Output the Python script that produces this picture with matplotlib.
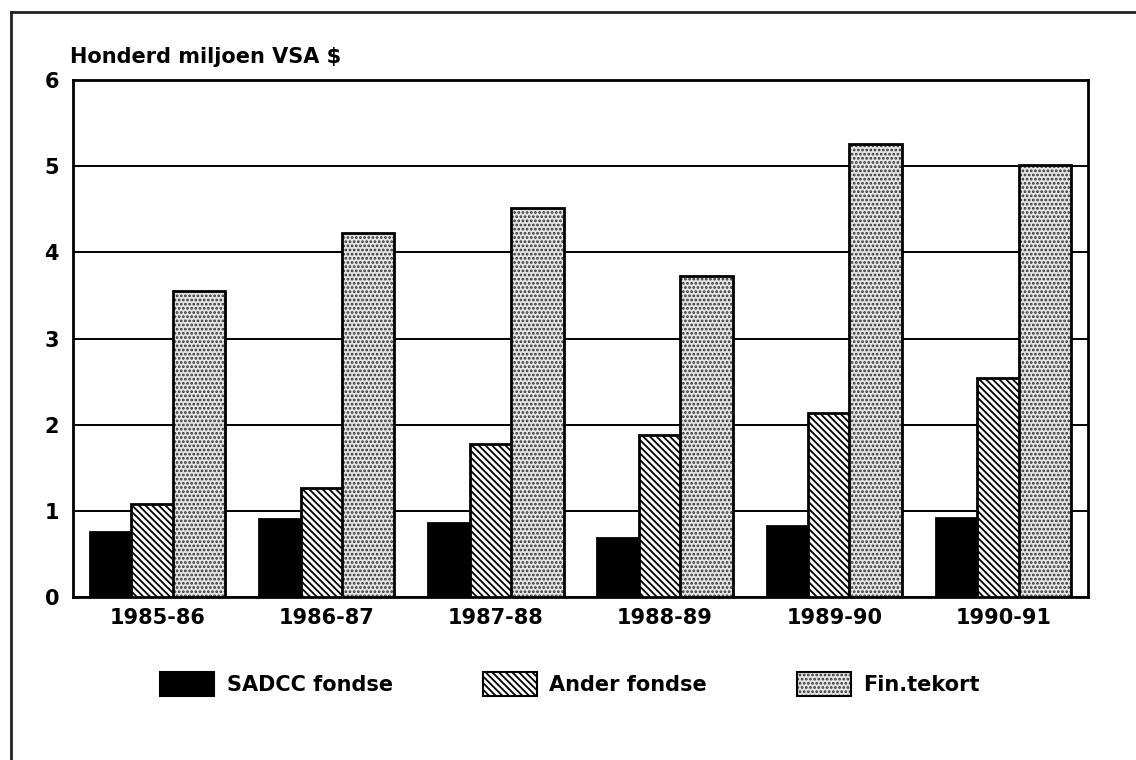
import matplotlib
matplotlib.use('Agg')
import matplotlib.pyplot as plt
import numpy as np
from matplotlib.patches import Patch
from matplotlib.lines import Line2D
from matplotlib.legend_handler import HandlerTuple

categories = ['1985-86', '1986-87', '1987-88', '1988-89', '1989-90', '1990-91']
sadcc = [0.76, 0.91, 0.86, 0.68, 0.82, 0.92]
ander = [1.08, 1.27, 1.78, 1.88, 2.13, 2.54]
tekort = [3.55, 4.22, 4.51, 3.72, 5.26, 5.01]
series_labels = ['SADCC fondse', 'Ander fondse', 'Fin.tekort']
y_ticks = [0, 1, 2, 3, 4, 5, 6]
title = 'Honderd miljoen VSA $'

plt.rcParams['font.family'] = ['DejaVu Sans']
plt.rcParams['font.weight'] = 'bold'
plt.rcParams['hatch.linewidth'] = 1.3

W, H = 1136, 760
fig = plt.figure(figsize=(W / 100, H / 100), dpi=100)
ax = fig.add_axes([73 / W, 1 - 597 / H, 1015 / W, 517 / H])

x = np.arange(len(categories))
w = 0.31
off = 0.245
dot_face = '#e4e4e4'
dot_col = '#333333'
stripe_hatch = '\\' * 5
dot_hatch = '....'

ax.bar(x - off, sadcc, w, color='black', edgecolor='black', lw=2, zorder=3)
ax.bar(x, ander, w, color='white', edgecolor='black', hatch=stripe_hatch, lw=2, zorder=4)
ax.bar(x + off, tekort, w, color=dot_face, edgecolor=dot_col, hatch=dot_hatch, lw=0, zorder=5)
ax.bar(x + off, tekort, w, color='none', edgecolor='black', lw=2, zorder=6)

ax.set_xlim(-0.5, len(categories) - 0.5)
ax.set_ylim(0, 6)
ax.set_yticks(y_ticks)
ax.set_yticklabels([str(t) for t in y_ticks], fontsize=15, fontweight='bold')
ax.set_xticks(x)
ax.set_xticklabels(categories, fontsize=15, fontweight='bold')
ax.tick_params(axis='both', length=0)
ax.tick_params(axis='y', pad=10)
ax.tick_params(axis='x', pad=8)
ax.yaxis.grid(True, color='black', lw=1.4, zorder=1)
ax.set_axisbelow(True)
for s in ax.spines.values():
    s.set_linewidth(2)
    s.set_color('black')

fig.text(70 / W, 1 - 57 / H, title, fontsize=15, fontweight='bold', va='center', ha='left')

h_dots = (Patch(facecolor=dot_face, edgecolor=dot_col, hatch=dot_hatch, lw=0),
          Patch(facecolor='none', edgecolor='black', lw=1.5))
handles = [
    Patch(facecolor='black', edgecolor='black', lw=1.5),
    Patch(facecolor='white', edgecolor='black', hatch=stripe_hatch, lw=1.5),
    h_dots,
]
fig.legend(handles, series_labels, loc='center', bbox_to_anchor=(570 / W, 1 - 684 / H),
           ncol=3, frameon=False, fontsize=15, handlelength=2.6, handleheight=1.45,
           handletextpad=0.6, columnspacing=4.3,
           handler_map={tuple: HandlerTuple(ndivide=1, pad=0)})

fig.add_artist(Line2D([11 / W, 11 / W], [1 - 12 / H, 0], transform=fig.transFigure,
                      color='#222222', lw=2))
fig.add_artist(Line2D([11 / W, 1], [1 - 12 / H, 1 - 12 / H], transform=fig.transFigure,
                      color='#222222', lw=2))

fig.savefig('out.png', dpi=100, facecolor='white')
